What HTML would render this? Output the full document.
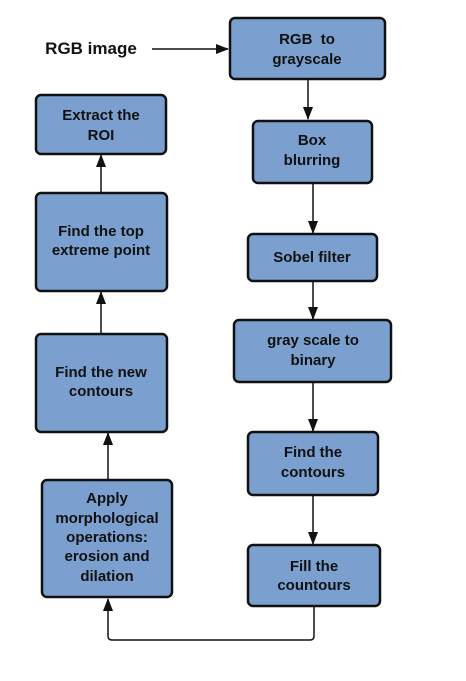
<!DOCTYPE html>
<html><head><style>
html,body{margin:0;padding:0;background:#fff;}
svg{display:block;}
text{font-family:"Liberation Sans",sans-serif;font-weight:bold;font-size:15px;fill:#111;text-anchor:middle;}
rect{fill:#7ba0cf;stroke:#111;stroke-width:2.5;}
.l{stroke:#111;stroke-width:1.5;fill:none;}
</style></head><body>
<svg width="466" height="681" viewBox="0 0 466 681">
<defs><marker id="a" markerWidth="13" markerHeight="10" refX="12" refY="5" orient="auto" markerUnits="userSpaceOnUse"><path d="M0,0 L13,5 L0,10 z" fill="#111"/></marker></defs>
<text x="91" y="54" style="font-size:17px">RGB image</text>
<line class="l" x1="152" y1="49" x2="228" y2="49" marker-end="url(#a)"/>

<rect x="230" y="18" width="155" height="61" rx="5"/>
<text x="307" y="44" xml:space="preserve">RGB  to</text><text x="307" y="64">grayscale</text>
<line class="l" x1="308" y1="79" x2="308" y2="119" marker-end="url(#a)"/>

<rect x="253" y="121" width="119" height="62" rx="5"/>
<text x="312" y="145">Box</text><text x="312" y="165">blurring</text>
<line class="l" x1="313" y1="183" x2="313" y2="233" marker-end="url(#a)"/>

<rect x="248" y="234" width="129" height="47" rx="5"/>
<text x="312" y="262">Sobel filter</text>
<line class="l" x1="313" y1="281" x2="313" y2="319" marker-end="url(#a)"/>

<rect x="234" y="320" width="157" height="62" rx="5"/>
<text x="313" y="345">gray scale to</text><text x="313" y="365">binary</text>
<line class="l" x1="313" y1="382" x2="313" y2="431" marker-end="url(#a)"/>

<rect x="248" y="432" width="130" height="63" rx="5"/>
<text x="313" y="457">Find the</text><text x="313" y="477">contours</text>
<line class="l" x1="313" y1="495" x2="313" y2="544" marker-end="url(#a)"/>

<rect x="248" y="545" width="132" height="61" rx="5"/>
<text x="314" y="571">Fill the</text><text x="314" y="590">countours</text>

<path class="l" d="M314,606 V636 Q314,640 310,640 H112 Q108,640 108,636 V599" marker-end="url(#a)"/>

<rect x="42" y="480" width="130" height="117" rx="5"/>
<text x="107" y="503">Apply</text><text x="107" y="523">morphological</text><text x="107" y="542">operations:</text><text x="107" y="561">erosion and</text><text x="107" y="581">dilation</text>
<line class="l" x1="108" y1="480" x2="108" y2="433" marker-end="url(#a)"/>

<rect x="36" y="334" width="131" height="98" rx="5"/>
<text x="101" y="377">Find the new</text><text x="101" y="396">contours</text>
<line class="l" x1="101" y1="334" x2="101" y2="292" marker-end="url(#a)"/>

<rect x="36" y="193" width="131" height="98" rx="5"/>
<text x="101" y="236">Find the top</text><text x="101" y="255">extreme point</text>
<line class="l" x1="101" y1="193" x2="101" y2="155" marker-end="url(#a)"/>

<rect x="36" y="95" width="130" height="59" rx="5"/>
<text x="101" y="120">Extract the</text><text x="101" y="140">ROI</text>
</svg>
</body></html>
